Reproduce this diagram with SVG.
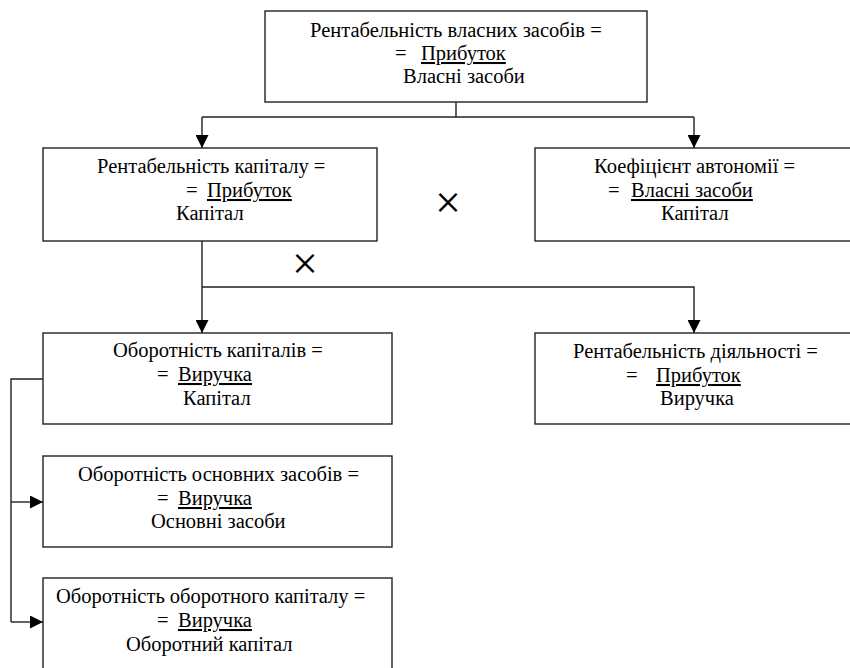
<svg xmlns="http://www.w3.org/2000/svg" width="850" height="668" viewBox="0 0 850 668">
<defs>
<marker id="arr" viewBox="0 0 12 12" refX="12" refY="6" markerWidth="13" markerHeight="13" markerUnits="userSpaceOnUse" orient="auto">
<path d="M0,0 L12,6 L0,12 Z" fill="#000"/>
</marker>
</defs>
<style>
.box{fill:#fff;stroke:#222;stroke-width:1.4}
.ln{fill:none;stroke:#222;stroke-width:1.4}
.t{font-family:'Liberation Serif','Times New Roman',serif;font-size:20.5px;fill:#000}
.u{text-decoration:underline}
.x{font-size:46px}
</style>
<g id="connectors">
<path class="ln" d="M456,102 V117"/>
<path class="ln" d="M202,117 H694"/>
<path class="ln" d="M202,117 V148" marker-end="url(#arr)"/>
<path class="ln" d="M694,117 V148" marker-end="url(#arr)"/>
<path class="ln" d="M202,241 V333" marker-end="url(#arr)"/>
<path class="ln" d="M202,287 H694 V333" marker-end="url(#arr)"/>
<path class="ln" d="M43,379 H11 V622"/>
<path class="ln" d="M11,502 H43" marker-end="url(#arr)"/>
<path class="ln" d="M11,622 H43" marker-end="url(#arr)"/>
</g>
<g class="t">
<g id="n1">
<rect class="box" x="265" y="11" width="382" height="91"/>
<text x="310" y="37">Рентабельність власних засобів =</text>
<text x="395" y="60">=</text><text x="421" y="60" class="u">Прибуток</text>
<text x="403" y="83">Власні засоби</text>
</g>
<g id="n2">
<rect class="box" x="43" y="148" width="334" height="93"/>
<text x="97" y="173">Рентабельність капіталу =</text>
<text x="186" y="197">=</text><text x="207" y="197" class="u">Прибуток</text>
<text x="176" y="220">Капітал</text>
</g>
<g id="n3">
<rect class="box" x="535" y="148" width="320" height="93"/>
<text x="594" y="173">Коефіцієнт автономії =</text>
<text x="608" y="197">=</text><text x="631" y="197" class="u">Власні засоби</text>
<text x="661" y="220">Капітал</text>
</g>
<g id="n4">
<rect class="box" x="43" y="333" width="349" height="91"/>
<text x="113" y="357">Оборотність капіталів =</text>
<text x="157" y="381">=</text><text x="178" y="381" class="u">Виручка</text>
<text x="183" y="405">Капітал</text>
</g>
<g id="n5">
<rect class="box" x="535" y="333" width="320" height="91"/>
<text x="573" y="358">Рентабельність діяльності =</text>
<text x="626" y="382">=</text><text x="656" y="382" class="u">Прибуток</text>
<text x="660" y="405">Виручка</text>
</g>
<g id="n6">
<rect class="box" x="43" y="456" width="349" height="91"/>
<text x="78" y="481">Оборотність основних засобів =</text>
<text x="157" y="505">=</text><text x="178" y="505" class="u">Виручка</text>
<text x="151" y="528">Основні засоби</text>
</g>
<g id="n7">
<rect class="box" x="43" y="578" width="349" height="100"/>
<text x="56" y="603">Оборотність оборотного капіталу =</text>
<text x="157" y="627">=</text><text x="178" y="627" class="u">Виручка</text>
<text x="126" y="651">Оборотний капітал</text>
</g>
<g id="ops">
<text class="x" x="448" y="218" text-anchor="middle">×</text>
<text class="x" x="305" y="279" text-anchor="middle">×</text>
</g>
</g>
</svg>
